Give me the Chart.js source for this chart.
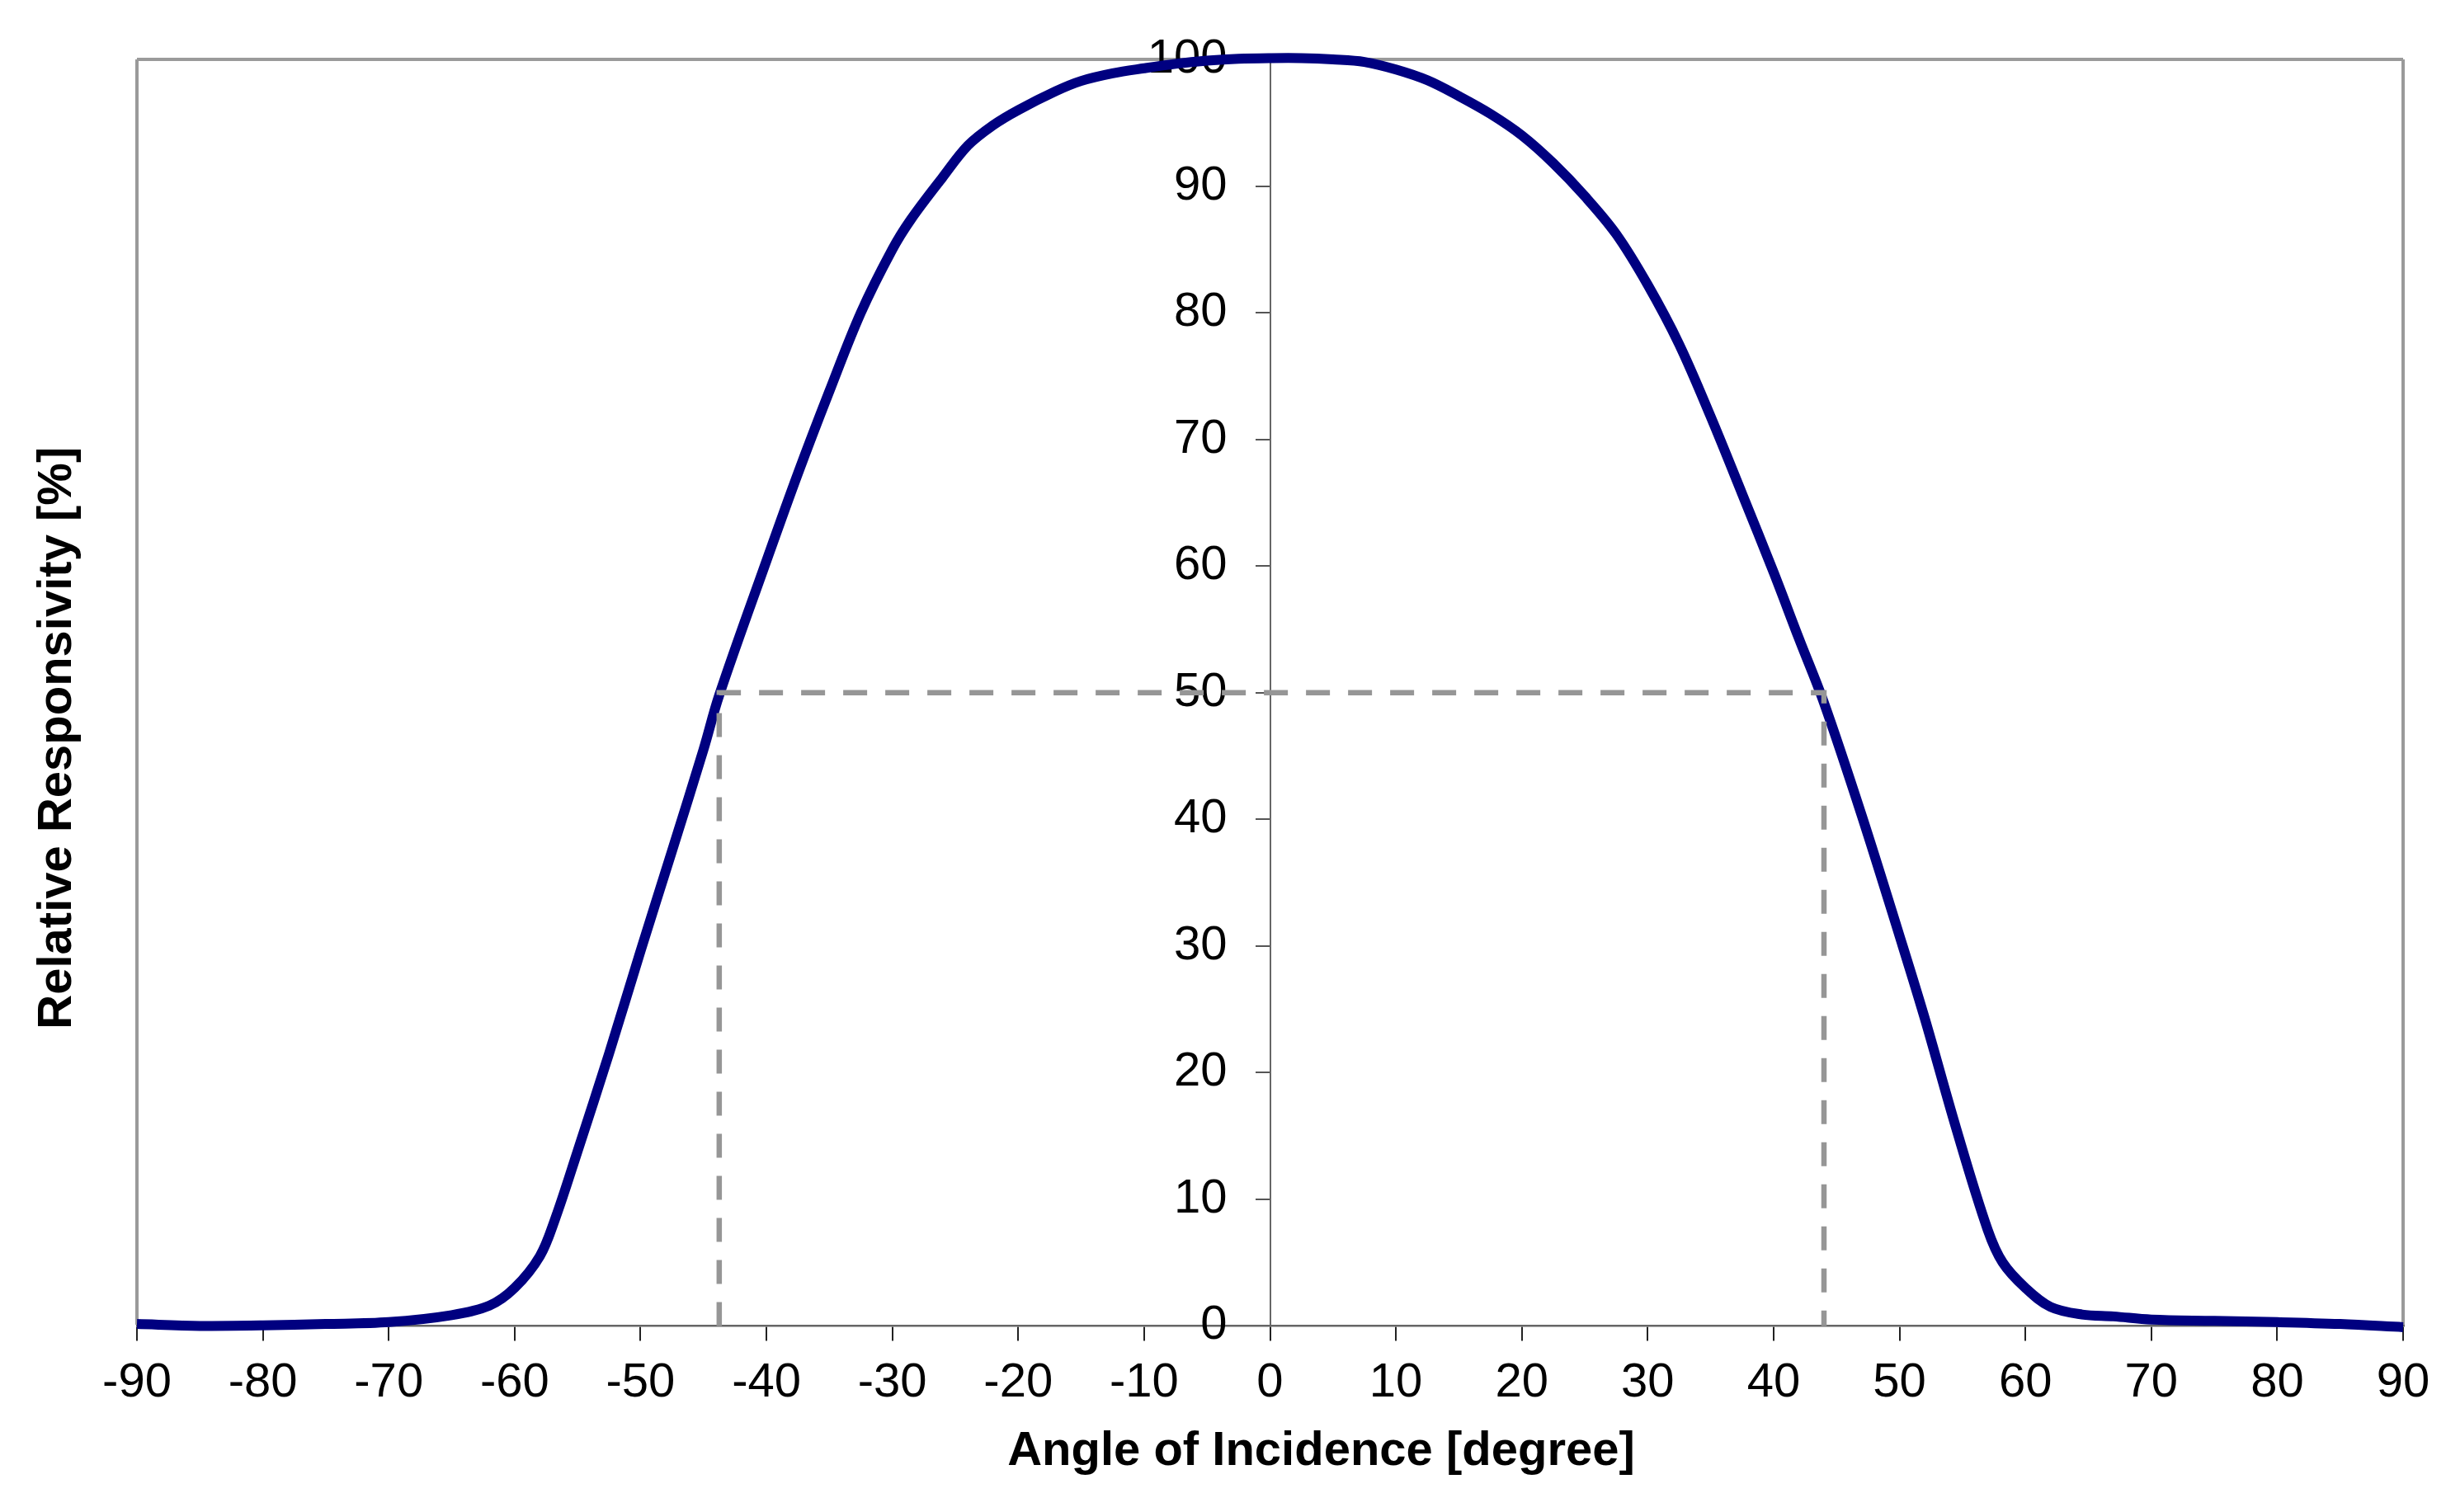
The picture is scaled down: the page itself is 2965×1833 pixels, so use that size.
<!DOCTYPE html>
<html>
<head>
<meta charset="utf-8">
<script src="https://cdn.jsdelivr.net/npm/chart.js@4/dist/chart.umd.min.js"></script>
<style>
  html, body { margin: 0; padding: 0; background: #ffffff; }
  #wrap { width: 2965px; height: 1833px; position: relative; }
</style>
</head>
<body>
<div id="wrap"><canvas id="c"></canvas></div>
<script>
// ---- data ----
const angles = [-90, -85, -80, -75, -70, -65, -62, -60, -58, -56.8, -55, -52.5, -50, -47.5, -45, -43.75,
  -40, -37.5, -35, -32.5, -30, -28.5, -26, -24, -22, -20, -17, -15, -12.5, -10, -7.5, -5, -2.5,
  0, 2.5, 5, 7.5, 10, 12.5, 15, 17.5, 20, 22.5, 25, 27.5, 30, 32.5, 35, 37.5, 40, 42, 44,
  47, 50, 52, 54.5, 57, 58.2, 60, 62, 64.5, 67, 70, 75, 80, 85, 90];
const responsivity = [0.15, 0.0, 0.05, 0.15, 0.3, 0.85, 1.6, 3.0, 5.5, 8.4, 13.8, 21.5, 29.6, 37.5, 45.5, 49.8,
  60.4, 67.3, 73.8, 80.0, 85.0, 87.4, 90.7, 93.2, 94.8, 96.0, 97.5, 98.3, 98.9, 99.3, 99.65, 99.9, 100.05,
  100.1, 100.1, 100.0, 99.8, 99.2, 98.35, 97.1, 95.7, 94.0, 91.8, 89.2, 86.2, 82.2, 77.5, 71.8, 65.7, 59.5, 54.3, 49.2,
  40.3, 30.8, 24.3, 15.6, 7.6, 5.0, 3.0, 1.5, 0.9, 0.75, 0.5, 0.4, 0.3, 0.15, -0.1];
const halfAngles = [-43.75, 44];   // angles where responsivity = 50 %
const halfLevel = 50;
const xTicks = [-90, -80, -70, -60, -50, -40, -30, -20, -10, 0, 10, 20, 30, 40, 50, 60, 70, 80, 90];
const yTicks = [0, 10, 20, 30, 40, 50, 60, 70, 80, 90, 100];
const xTitle = 'Angle of Incidence [degree]';
const yTitle = 'Relative Responsivity [%]';

const curve = angles.map((a, i) => ({ x: a, y: responsivity[i] }));
const halfLines = [
  { x: halfAngles[0], y: 0 },
  { x: halfAngles[0], y: halfLevel },
  { x: halfAngles[1], y: halfLevel },
  { x: halfAngles[1], y: 0 }
];

const FONT = "'Liberation Sans', Arial, sans-serif";
const BORDER_GREY = '#9a9a9a';

// Axis titles placed like the original (slightly off the plot centre)
const axisTitles = {
  id: 'axisTitles',
  afterDraw(chart) {
    const { ctx, chartArea: a } = chart;
    ctx.save();
    ctx.fillStyle = '#000';
    ctx.font = `bold 58px ${FONT}`;
    ctx.textAlign = 'center';
    ctx.textBaseline = 'middle';
    ctx.fillText(xTitle, (a.left + a.right) / 2 + 62, a.bottom + 153);
    ctx.translate(a.left - 96, (a.top + a.bottom) / 2 + 55);
    ctx.rotate(-Math.PI / 2);
    ctx.fillText(yTitle, 0, 0);
    ctx.restore();
  }
};

new Chart(document.getElementById('c'), {
  type: 'scatter',
  data: {
    datasets: [
      {
        label: 'FWHM',
        data: halfLines,
        showLine: true,
        borderColor: '#969696',
        borderWidth: 6.5,
        borderDash: [29, 22],
        borderCapStyle: 'butt',
        pointRadius: 0,
        tension: 0,
        fill: false,
        order: 0,
        clip: false
      },
      {
        label: 'Relative Responsivity',
        data: curve,
        showLine: true,
        borderColor: '#000080',
        borderWidth: 12,
        pointRadius: 0,
        tension: 0.35,
        fill: false,
        order: 1,
        clip: false
      }
    ]
  },
  plugins: [axisTitles],
  options: {
    responsive: true,
    maintainAspectRatio: false,
    animation: false,
    events: [],
    layout: { padding: { top: 72, right: 52, bottom: 104, left: 166 } },
    plugins: { legend: { display: false }, tooltip: { enabled: false } },
    scales: {
      x: {
        type: 'linear',
        position: 'bottom',
        min: -90,
        max: 90,
        afterBuildTicks: s => { s.ticks = xTicks.map(v => ({ value: v })); },
        ticks: {
          color: '#000',
          font: { family: FONT, size: 58 },
          padding: 17,
          maxRotation: 0,
          autoSkip: false
        },
        grid: {
          drawOnChartArea: true,
          drawTicks: true,
          tickLength: 18,
          tickColor: '#222',
          tickWidth: 2,
          lineWidth: 4,
          color: ctx => (ctx.tick && (ctx.tick.value === -90 || ctx.tick.value === 90)) ? BORDER_GREY : 'rgba(0,0,0,0)'
        },
        border: { display: true, color: '#666', width: 2.5 }
      },
      y: {
        type: 'linear',
        position: 'center',
        min: 0,
        max: 100,
        afterBuildTicks: s => { s.ticks = yTicks.map(v => ({ value: v })); },
        ticks: {
          color: '#000',
          font: { family: FONT, size: 58 },
          padding: 35,
          autoSkip: false
        },
        grid: {
          drawOnChartArea: true,
          drawTicks: true,
          tickLength: 17,
          tickColor: '#555',
          tickWidth: 2,
          lineWidth: 4,
          color: ctx => (ctx.tick && ctx.tick.value === 100) ? BORDER_GREY : 'rgba(0,0,0,0)'
        },
        border: { display: true, color: '#666', width: 2 }
      }
    }
  }
});
</script>
</body>
</html>
